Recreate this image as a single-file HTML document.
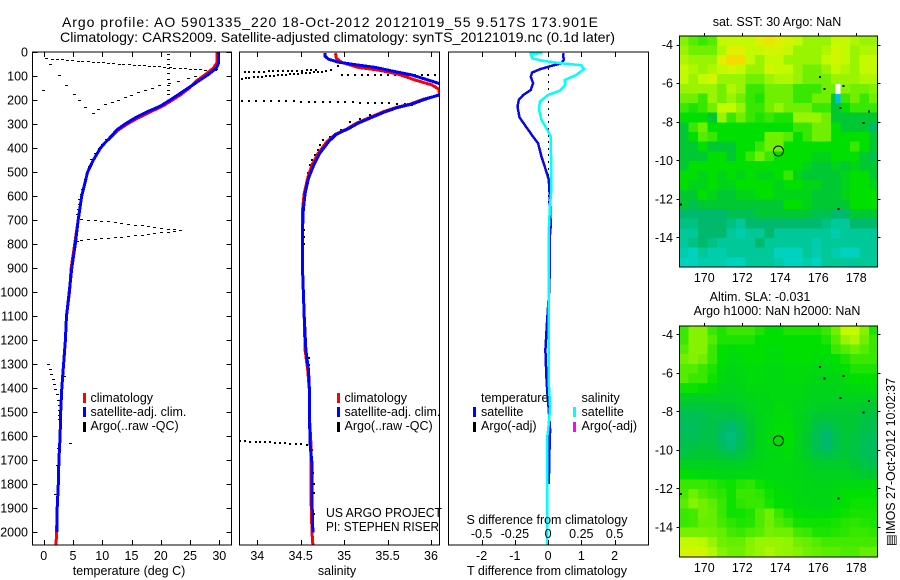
<!DOCTYPE html>
<html>
<head>
<meta charset="utf-8">
<title>Argo profile 5901335_220</title>
<style>
html,body{margin:0;padding:0;background:#fff;}
svg{display:block;}
text{font-family:"Liberation Sans",sans-serif;font-size:12.5px;fill:#000;}
.title{font-size:14px;}
</style>
</head>
<body>
<svg id="chart" xmlns="http://www.w3.org/2000/svg" width="900" height="580" viewBox="0 0 900 580">
<defs>
<clipPath id="clip-temp"><rect x="32.5" y="52" width="199" height="493"/></clipPath>
<clipPath id="clip-sal"><rect x="239.5" y="52" width="200" height="493"/></clipPath>
<clipPath id="clip-diff"><rect x="448.5" y="52" width="200" height="493"/></clipPath>
<clipPath id="clip-map1"><rect x="679.5" y="36" width="198" height="231"/></clipPath>
<clipPath id="clip-map2"><rect x="679.5" y="326" width="198" height="231"/></clipPath>
</defs>
<text class="title" x="62" y="27" textLength="536" lengthAdjust="spacing">Argo profile: AO 5901335_220 18-Oct-2012 20121019_55 9.517S 173.901E</text>
<text class="title" x="60" y="42" textLength="555" lengthAdjust="spacingAndGlyphs">Climatology: CARS2009. Satellite-adjusted climatology: synTS_20121019.nc (0.1d later)</text>

<g id="temp-panel"></g>
<g id="sal-panel"></g>
<g id="diff-panel"></g>
<g id="map1-panel"></g>
<g id="map2-panel"></g>

<text x="129" y="575" text-anchor="middle">temperature (deg C)</text>
<text x="337" y="575" text-anchor="middle">salinity</text>
<text x="547" y="575" text-anchor="middle">T difference from climatology</text>
<text x="547" y="524" text-anchor="middle">S difference from climatology</text>

<text x="90.5" y="402">climatology</text>
<text x="90.5" y="416">satellite-adj. clim.</text>
<text x="90.5" y="430">Argo(..raw -QC)</text>
<rect x="83" y="393" width="3" height="10" fill="#f00"/>
<rect x="83" y="407" width="3" height="10" fill="#00f"/>
<rect x="83" y="422" width="3" height="10" fill="#000"/>

<text x="344.5" y="402">climatology</text>
<text x="344.5" y="416">satellite-adj. clim.</text>
<text x="344.5" y="430">Argo(..raw -QC)</text>
<rect x="337" y="393" width="3" height="10" fill="#f00"/>
<rect x="337" y="407" width="3" height="10" fill="#00f"/>
<rect x="337" y="422" width="3" height="10" fill="#000"/>

<text x="326" y="517" textLength="116" lengthAdjust="spacingAndGlyphs">US ARGO PROJECT</text>
<text x="326" y="531" textLength="113" lengthAdjust="spacingAndGlyphs">PI: STEPHEN RISER</text>

<text x="481" y="402">temperature</text>
<text x="481" y="416">satellite</text>
<text x="481" y="430">Argo(-adj)</text>
<rect x="473" y="407" width="3" height="10" fill="#00f"/>
<rect x="473" y="422" width="3" height="10" fill="#000"/>
<text x="581.5" y="402">salinity</text>
<text x="581.5" y="416">satellite</text>
<text x="581.5" y="430">Argo(-adj)</text>
<rect x="573" y="407" width="3" height="10" fill="#0ff"/>
<rect x="573" y="422" width="3" height="10" fill="#f0f"/>

<text x="777" y="26" text-anchor="middle">sat. SST: 30 Argo: NaN</text>
<text x="760" y="301" text-anchor="middle">Altim. SLA: -0.031</text>
<text x="777" y="315" text-anchor="middle">Argo h1000: NaN h2000: NaN</text>
<text transform="translate(895,546) rotate(-90)" textLength="168" lengthAdjust="spacingAndGlyphs" style="font-family:'Liberation Sans','DejaVu Sans',sans-serif">▤IMOS 27-Oct-2012 10:02:37</text>
</svg>

<script>
/* ---------- temperature profile data ---------- */
const tempClimDepth=[0,45,55,67,94,122,150,178,200,226,250,275,300,324,350,375,400,449,500,550,600,700,800,900,1000,1100,1200,1300,1400,1500,1600,1700,1800,1900,2000,2055];
const tempClimValues=[29.6,29.6,29.3,29.0,27.6,26.0,24.9,23.4,22.0,20.3,18.2,16.1,14.3,12.8,11.7,10.6,9.7,8.5,7.5,7.0,6.5,5.9,5.3,4.7,4.4,3.9,3.7,3.4,3.1,2.9,2.8,2.6,2.5,2.3,2.2,2.1];
const tempSatDepth=[0,45,67,94,122,150,178,200,226,250,275,300,324,350,375,400,449,500,550,600,700,800,900,990,1100,1200,1300,1400,1500,1600,1700,1800,1900,2000];
const tempSatValues=[29.9,29.9,29.5,28.1,26.4,24.7,23.0,21.6,19.9,17.6,15.6,13.9,12.5,11.6,10.6,9.7,8.5,7.5,7.0,6.5,5.9,5.4,4.8,4.4,3.9,3.7,3.4,3.1,2.9,2.8,2.6,2.5,2.3,2.3];
const tempArgoValues=[0.5,1.5,2.4,3.2,4.1,5,5.9,6.7,7.6,8.5,9.3,10.2,11.1,12,12.9,13.7,14.6,15.5,16.3,17.2,18.1,19,19.8,20.7,21.6,22.4,23.3,24.2,25,25.9,26.8,27.6,28.5,29.4,
29.5,28.6,27.5,26,24.8,23,21.5,19.8,18.6,17.4,16.2,15,14,12.8,11.7,10.6,9.4,8.5,7.2,6.2,5.2,3.9,2.7,1.2,0,
21.3,21.3,21.3,21.3,21.3,21.3,21.3,21.3,21.3,19.6,
10.7,10,9.5,8.8,8.2,7.8,7.5,7.2,6.7,6.5,6.2,6.1,5.9,5.8,
6.5,7.6,8.8,9.9,11,12.2,13.3,14.5,15.6,16.8,17.9,19,20.2,21.3,22.4,23.3,
22.4,21.3,20.2,19,17.9,16.8,15.6,14.5,13.3,12.2,11,9.9,8.8,7.6,6.5,5.7,
0.8,1.1,1.4,1.6,1.8,2.1,2.3,2.6,3.5,2.7,2.7,2.7,2.7,2.6,2.3,2.1,4.6];
const tempArgoDepth=[29,31,32,33,35,36,38,39,41,42,44,45,47,49,50,52,53,55,56,58,59,61,62,64,65,67,68,70,71,73,74,76,77,79,
72,85,95,103,112,124,132,140,150,160,170,180,190,200,210,220,240,258,233,203,178,139,96,54,160,
10,32,53,70,90,115,140,160,178,229,
365,386,400,421,449,476,504,532,574,594,615,636,657,678,
699,700,703,706,708,711,715,718,721,724,728,731,735,738,740,743,
749,751,754,757,760,763,765,768,771,772,775,778,781,783,786,790,
1300,1322,1342,1364,1385,1406,1427,1450,1350,1471,1492,1513,1533,1651,1721,1843,1630];
const tempTickLabels=[0,5,10,15,20,25,30];
const depthTickLabels=[0,100,200,300,400,500,600,700,800,900,1000,1100,1200,1300,1400,1500,1600,1700,1800,1900,2000];

/* ---------- salinity profile data ---------- */
const salClimDepth=[5,26,43,64,75,92,117,137,155,179,197,217,231,249,272,297,319,343,374,422,471,526,589,658,742,902,1100,1242,1325,1408,1520,1645,1715,1867,2003,2055];
const salClimValues=[34.90,34.91,34.97,35.16,35.39,35.62,35.82,36.01,36.09,36.10,35.91,35.76,35.60,35.45,35.30,35.14,35.04,34.90,34.80,34.70,34.63,34.58,34.54,34.52,34.52,34.52,34.54,34.55,34.58,34.60,34.60,34.62,34.62,34.62,34.63,34.64];
const salSatDepth=[4,17,30,42,53,64,82,96,117,131,155,179,197,217,231,249,272,297,319,343,374,422,471,526,589,658,742,902,1100,1242,1325,1408,1520,1645,1715,1867,2003];
const salSatValues=[34.78,34.78,34.82,34.93,35.13,35.36,35.59,35.78,35.97,36.09,36.25,36.09,35.93,35.78,35.62,35.47,35.32,35.16,35.05,34.91,34.82,34.72,34.65,34.59,34.55,34.53,34.52,34.52,34.54,34.56,34.59,34.60,34.60,34.61,34.63,34.63,34.64];
const salArgoValues=[33.82,33.87,33.91,33.96,34.01,34.05,34.1,34.15,34.19,34.24,34.28,34.33,34.38,34.42,34.47,34.51,34.56,34.61,34.65,34.7,34.75,34.79,34.85,34.93,
33.86,33.91,33.96,34.02,34.08,34.13,34.18,34.24,34.3,34.35,34.4,34.46,34.52,34.57,34.62,34.68,
34.97,35.05,35.12,35.2,35.28,35.36,35.43,35.51,35.59,35.66,35.74,35.82,35.9,35.97,36.05,
33.82,33.91,33.99,34.08,34.16,34.25,34.33,34.42,34.5,34.59,34.67,34.76,34.84,34.93,35.01,35.1,35.18,35.27,35.35,35.44,35.52,35.61,35.7,
35.78,35.51,35.3,35.18,35.07,34.96,34.89,34.84,34.76,34.72,34.7,34.66,34.63,34.61,34.58,34.54,34.54,34.54,34.6,34.6,34.6,34.63,34.63,34.64,34.65,34.65,34.65,
33.8,33.86,33.92,33.98,34.03,34.09,34.15,34.2,34.26,34.32,34.38,34.44,34.5,34.57];
const salArgoDepth=[111,108,107,106,104,103,101,100,98,97,95,94,92,91,90,88,87,86,85,84,83,81,73,60,
84,83,83,82,82,81,81,80,80,79,79,78,78,77,76,75,
96,96,96,96,96,96,96,97,97,97,97,97,97,97,97,
204,204,205,205,205,206,206,206,207,207,208,208,209,209,210,210,211,212,212,213,214,215,216,
221,242,262,281,290,325,342,353,367,388,408,429,450,471,506,742,770,800,1277,1304,1450,1659,1714,1756,1798,1839,1923,
1621,1622,1623,1624,1625,1626,1627,1629,1630,1631,1632,1634,1635,1637];
const salTickLabels=['34','34.5','35','35.5','36'];
const salTickValues=[34,34.5,35,35.5,36];

/* ---------- difference data ---------- */
const diffTempDepth=[5,33,47,58,72,86,103,130,158,179,200,228,272,304,353,381,436,499,533,603,658,720,770,902,1000,1120,1242,1353,1422,1492,1575,1672,1800];
const diffTempValues=[0.45,0.47,0.4,0.1,-0.25,-0.48,-0.52,-0.45,-0.52,-0.75,-0.88,-0.92,-0.86,-0.7,-0.45,-0.3,-0.2,-0.05,0.02,0.05,0.06,0.08,0.05,0.05,0.03,-0.03,-0.08,-0.05,-0.02,0.02,0.06,0.04,0.02];
const diffSalDepth=[5,8,26,36,47,55,72,96,117,137,161,179,207,242,283,318,353,408,464,575,630,742,902,1242,1380,1478,1550,1600,2055];
const diffSalValues=[-0.043,-0.13,-0.12,-0.05,0.1,0.25,0.27,0.21,0.125,0.13,0.09,0,-0.063,-0.068,-0.05,-0.013,0.02,0.02,0.025,0.025,0.015,0.005,0.005,0.005,0.005,0.015,0.005,-0.005,-0.005];
const diffArgoDepth=[70,97,125,153,181,209,237,264,292,320,348,375,403,431,459,487,514,542,570,598,625];
const diffArgoValues=[0,0,0,0,0,0,0,0,0,0,0,0,0,0,0,0,0,0,0,0,0];
const diffTempTicks=[-2,-1,0,1,2];
const diffSalTicks=[-0.5,-0.25,0,0.25,0.5];
const diffSalTickLabels=['-0.5','-0.25','0','0.25','0.5'];

/* ---------- map data (colour-scale values, 0.5 degree cells, north to south) ---------- */
const mapLonTicks=[170,172,174,176,178];
const mapLatTicks=[-4,-6,-8,-10,-12,-14];
const sstValues=[
[6.5,5.5,5,5.5,8,8,8,8,9,9.5,9,8.5,8,7,7,7,8,8,7.5,7,7],
[7,6,6,6,7.5,9,9,8,8,8.5,8.5,8,7,7,7,7.5,8.5,8,7,7.5,7.5],
[7.5,7,7,7,9,10,10,8,7,8,8,7,7,7,7,8,8.5,8,7,8,8],
[8,7.5,7,7.5,8,8.5,8,7,7,8.5,8,8,7,6,6,7,8,7.5,7,8,8],
[8,7,8,8.5,7,7,7,6,6,7,7.5,7.5,7,6,6,6,7,7,7,7.5,7.5],
[7,7,7,7,6,7.5,7,5,5,6,6,6,5,5,5,6,6,6.5,6,6,6.5],
[6,6,5,7,6,7,6,5,4.5,6,6,6,5,5,6,6,3,5,6,5,6],
[5,4.5,5,6,8,8,7,5,5,6,7,6,6,6,5,5,3,4,5,5,5],
[4,4,4,3,7,5,6,5,4.5,5,4.5,4.5,7,7,7,6,3,3,3,3,3],
[3,5,6,4,4,4,4,4,4,4,4,4,5,5,6,6,4,3,3,3,2],
[3,4,5.5,5,4,4,4,4,4,6,6,5.5,4,5,6,6,4,4,4,4,3],
[3,3,4,3,3,3,4,4,5,6,6,4,4,4,4,4,4,4,5,4,3],
[3,3,3,4,4,3,4,5,6,5,4,4,4,4,3.5,3.5,4,4,4,3,2.5],
[3,4,4,4,4,4,4,4,4,4,4,4,4,3.5,3,3,3.5,3,3.5,3,3],
[4,4,3.5,4,3.5,4,3.5,4,3.5,3.5,4,5,3.5,3,3,3,3,3.5,4,4,3],
[4,3.5,3.5,4,3.5,3.5,4,4,4,4,3.5,4,4,3.5,3.5,3,3,3.5,4,4,3.5],
[3,3,4,3.5,3,3,3.5,3.5,4,4,3.5,3.5,3.5,3.5,3,3,3,3.5,4,4,4],
[3,2.5,3,3,3,3,3,3,3,3,3,4,4,3.5,3,3,3,3,4,4,4],
[2,2,2,2,2,2.5,2.5,2.5,3,3,3,3,3,3,2.5,2.5,2,2,3,3,3],
[1.5,1.5,2,2,2,1.5,1,2,2,2,2,2,2,2,2,1.5,1,1,2,2,2],
[1,1,2,2,2,1,0.5,1,1,2,1,1,1,1,1,1,0.5,1,1,1,1],
[1,1.5,2,1.5,1,1,1,1,2,1,1,1,1,1,0.5,1,1,1,1,1,1],
[0.5,0,1,0.5,0.5,1,1,1,1,1,0,0,0,1,0.5,1,0.5,0,0,1,1],
[0,0,0.5,0.5,0.5,0,0,1,1,1,0.5,0,0,0.5,0,1,1,1,1,1,1]];
const slaValues=[
[5,6.5,6.5,5,4.5,5,5,5,4.5,4,4,4.5,4.5,4.5,4.5,5,6,8,8,6.5,4.5],
[5,6.5,6.5,5.5,4.5,4.5,4.5,4.5,4,4,4,4,4,4,4,4.5,5.5,7,7.5,6,5],
[5.5,6.5,6.5,5,4,3.8,4,4,4,3.8,3.8,4,4,4,4,4,5,5.5,6,5.5,5],
[6,6.5,6,5,4,3.7,3.8,4,4,3.8,3.8,4,4,4,3.8,3.8,4,4.5,5,5,5],
[5.5,5.5,5,4.5,3.8,3.6,3.7,3.8,3.8,3.7,3.7,3.8,3.8,3.8,3.7,3.7,3.8,4,4.5,4.5,4.5],
[5.5,5,5,4.2,3.7,3.5,3.6,3.8,3.8,3.7,3.7,3.8,3.8,3.7,3.6,3.6,3.6,3.8,4,4,4],
[4.2,4.2,4,3.8,3.5,3.4,3.5,3.7,3.7,3.7,3.7,3.7,3.7,3.6,3.5,3.5,3.5,3.6,3.7,3.7,3.8],
[3.3,3.3,3.3,3.3,3.3,3.3,3.4,3.5,3.6,3.6,3.7,3.7,3.6,3.5,3.4,3.4,3.4,3.4,3.4,3.4,3.4],
[2.8,2.8,2.8,2.9,3,3,3.2,3.4,3.6,3.6,3.8,3.7,3.6,3.4,3.3,3.2,3.2,3.2,3.2,3,3],
[2.4,2.4,2.5,2.7,2.7,2.6,2.8,3.2,3.5,3.7,3.8,3.8,3.5,3.3,3,2.9,3,3,3,2.8,2.6],
[2.3,2.3,2.5,2.6,2.2,2,2.4,3,3.5,3.7,3.9,3.9,3.5,3.2,2.6,2.4,2.7,3,2.9,2.6,2.4],
[2.4,2.4,2.6,2.6,2,1.7,2.2,3,3.5,3.7,3.9,4,3.5,3.1,2.4,2,2.5,2.9,2.8,2.5,2.3],
[2.6,2.6,2.8,2.8,2.3,1.8,2.4,3,3.5,3.7,3.8,3.9,3.5,3.1,2.4,2,2.5,2.9,2.7,2.4,2.2],
[2.8,3,3,3,2.8,2.6,2.8,3.2,3.5,3.6,3.7,3.8,3.5,3.2,2.8,2.6,2.8,3,2.7,2.4,2.2],
[3.4,3.4,3.4,3.4,3.3,3.3,3.3,3.5,3.6,3.7,3.7,3.7,3.6,3.4,3.2,3.2,3.2,3.2,3,2.7,2.5],
[4,3.8,3.7,3.7,3.6,3.6,3.7,3.7,3.7,3.7,3.7,3.7,3.6,3.5,3.4,3.4,3.4,3.4,3.3,3.1,3],
[5,5,5,4.8,4.4,4.2,4.6,4.8,4.2,3.9,3.8,3.7,3.7,3.6,3.5,3.5,3.6,3.7,3.7,3.7,3.7],
[5.2,6,5.4,5,4.8,4.2,5,5,4.8,4.2,3.9,3.8,3.7,3.6,3.6,3.6,3.7,3.9,4,4,4],
[5.6,6.5,6,5.6,5,4.2,4.8,5,5,4.4,4,3.9,3.7,3.7,3.6,3.6,3.8,4,4.2,4.2,4.2],
[5,5.2,6,5.8,5,4.2,4.2,4.5,5.4,6,5,4.3,4,3.8,3.8,3.8,4,4.2,4.4,4.4,4.4],
[5,5.2,5.8,5.8,5.2,4.8,4.5,4.6,5.4,6,5.4,5,4.3,4.2,4.2,4.2,4.4,4.6,4.8,4.6,4.5],
[6.2,6.2,6.2,6,5.8,5.2,5,5.4,5.6,6.2,6,6,5.2,5,4.5,4.5,4.6,4.8,5,5,4.8],
[8,8,7.8,7,6,5.8,5.8,6.5,7,7,7,6.8,6,5.8,5.5,5.2,5.2,5.2,5.2,5.2,5.2],
[8.5,8.6,8.4,7.6,6.5,6,6,6.6,7,7.4,7,6.8,6.5,6,5.8,5.6,5.6,5.4,5.4,5.8,5.8]];
const islandLons=[176.09,176.32,177.32,177.16,178.68,178.37,177.05,168.77];
const islandLats=[-5.66,-6.26,-6.13,-7.27,-7.44,-8.03,-12.49,-12.27];
const floatLon=[173.901];
const floatLat=[-9.517];
const sstNanLon=[176.9];
const sstNanLat=[-6.05];
const sstColdLon=[176.9];
const sstColdLat=[-6.55];

/* ---------- drawing ---------- */
const NS='http://www.w3.org/2000/svg';
function node(tag,parent,attrs){
  const e=document.createElementNS(NS,tag);
  for(const k in attrs){e.setAttribute(k,attrs[k]);}
  parent.appendChild(e);
  return e;
}
function linear(d0,p0,d1,p1){return v=>p0+(v-d0)*(p1-p0)/(d1-d0);}
const depthY=linear(0,52,2000,532);
const tempX=linear(0,43.7,30,219.3);
const salX=linear(34,257.3,36,431);
const diffTX=linear(-2,481.6,2,614.6);
const diffSX=linear(-0.5,481.6,0.5,614.6);
const lonX=linear(170,704.3,178,856.3);
const map1Y=linear(-4,44.7,-14,237.4);
const map2Y=linear(-4,334.4,-14,527);

function frame(parent,x,y,w,h,name){
  const r=node('rect',parent,{x:x,y:y,width:w,height:h,fill:'none',stroke:'#000','stroke-width':1,'shape-rendering':'crispEdges'});
  
  
}
function tick(parent,x1,y1,x2,y2,name){
  const l=node('line',parent,{x1:x1,y1:y1,x2:x2,y2:y2,stroke:'#000','stroke-width':1,'shape-rendering':'crispEdges'});
  
  
}
function label(parent,x,y,str,anchor,name){
  const t=node('text',parent,{x:x,y:y,'text-anchor':anchor});
  t.textContent=str;
  
  
}
function curve(parent,xs,ys,xf,color,clip,name,width){
  const pts=xs.map((v,i)=>xf(v).toFixed(1)+','+depthY(ys[i]).toFixed(1)).join(' ');
  const p=node('polyline',parent,{points:pts,fill:'none',stroke:color,'stroke-width':width,'clip-path':'url(#'+clip+')','shape-rendering':'crispEdges'});
  
  
}
function dots(parent,xs,ys,xf,clip,name,w,h){
  const g=node('g',parent,{'clip-path':'url(#'+clip+')'});
  
  
  xs.forEach((v,i)=>{
    const d=node('rect',g,{x:Math.round(xf(v)-w/2),y:Math.round(depthY(ys[i])-h/2),width:w,height:h,fill:'#000','shape-rendering':'crispEdges'});
    
    
  });
}

/* temperature panel */
const tp=document.getElementById('temp-panel');
dots(tp,tempArgoValues,tempArgoDepth,tempX,'clip-temp','temperature-argo-dots',3,1);
curve(tp,tempClimValues,tempClimDepth,tempX,'#ff0000','clip-temp','temperature-climatology-line',3);
curve(tp,tempSatValues,tempSatDepth,tempX,'#0000ff','clip-temp','temperature-satellite-line',3);
frame(tp,32.5,52,199,493,'temperature-axes-frame');
tempTickLabels.forEach(v=>{
  const x=Math.round(tempX(v))+0.5;
  tick(tp,x,52,x,57,'temperature-top-tick');
  tick(tp,x,545,x,540,'temperature-bottom-tick');
  label(tp,tempX(v),560,String(v),'middle','temperature-tick-label');
});
depthTickLabels.forEach(v=>{
  const y=Math.round(depthY(v))+0.5;
  tick(tp,32.5,y,37.5,y,'depth-left-tick');
  tick(tp,231.5,y,226.5,y,'depth-right-tick');
  label(tp,28,depthY(v)+4.5,String(v),'end','depth-tick-label');
});

/* salinity panel */
const sp=document.getElementById('sal-panel');
dots(sp,salArgoValues,salArgoDepth,salX,'clip-sal','salinity-argo-dots',2,2);
curve(sp,salClimValues,salClimDepth,salX,'#ff0000','clip-sal','salinity-climatology-line',3);
curve(sp,salSatValues,salSatDepth,salX,'#0000ff','clip-sal','salinity-satellite-line',3);
frame(sp,239.5,52,200,493,'salinity-axes-frame');
salTickValues.forEach((v,i)=>{
  const x=Math.round(salX(v))+0.5;
  tick(sp,x,52,x,57,'salinity-top-tick');
  tick(sp,x,545,x,540,'salinity-bottom-tick');
  label(sp,salX(v),560,salTickLabels[i],'middle','salinity-tick-label');
});

/* difference panel */
const dp=document.getElementById('diff-panel');
dots(dp,diffArgoValues,diffArgoDepth,diffTX,'clip-diff','difference-argo-dots',1,2);
curve(dp,diffTempValues,diffTempDepth,diffTX,'#0808e8','clip-diff','temperature-difference-line',2.5);
curve(dp,diffSalValues,diffSalDepth,diffSX,'#00ffff','clip-diff','salinity-difference-line',2.5);
frame(dp,448.5,52,200,493,'difference-axes-frame');
diffTempTicks.forEach(v=>{
  const x=Math.round(diffTX(v))+0.5;
  tick(dp,x,52,x,57,'difference-top-tick');
  tick(dp,x,545,x,540,'difference-bottom-tick');
  label(dp,diffTX(v),560,String(v),'middle','t-difference-tick-label');
});
diffSalTicks.forEach((v,i)=>{
  label(dp,diffSX(v),538,diffSalTickLabels[i],'middle','s-difference-tick-label');
});

/* maps */
const palette=[[0,210,192],[0,200,152],[0,185,108],[0,200,50],[0,224,0],[56,232,0],[112,240,0],[152,244,0],[196,250,0],[224,240,0],[244,220,0]];
function levelColor(v){
  const i=Math.min(Math.floor(v),palette.length-2), f=v-i;
  const c=palette[i].map((p,k)=>Math.round(p+(palette[i+1][k]-p)*f));
  return 'rgb('+c.join(',')+')';
}
function drawMap(pid,values,yf,clip,prefix){
  const root=document.getElementById(pid);
  const grid=node('g',root,{'clip-path':'url(#'+clip+')','shape-rendering':'crispEdges'});
  
  
  const lon0=168.68, lat0=-3.53;
  values.forEach((row,r)=>{
    row.forEach((v,c)=>{
      const x0=lonX(lon0+c*0.5),x1=lonX(lon0+(c+1)*0.5);
      const y0=yf(lat0-r*0.5),y1=yf(lat0-(r+1)*0.5);
      const cell=node('rect',grid,{x:x0.toFixed(2),y:y0.toFixed(2),width:(x1-x0+0.6).toFixed(2),height:(y1-y0+0.6).toFixed(2),fill:levelColor(v)});
      
      
    });
  });
  return {root,grid};
}
function finishMap(m,yf,top,prefix){
  const root=m.root;
  const marks=node('g',root,{});
  
  
  islandLons.forEach((lon,i)=>{
    const d=node('rect',marks,{x:(lonX(lon)-1).toFixed(1),y:(yf(islandLats[i])-0.5).toFixed(1),width:2,height:2,fill:'#000','shape-rendering':'crispEdges'});
    
    
  });
  const circ=node('circle',root,{cx:lonX(floatLon[0]).toFixed(1),cy:yf(floatLat[0]).toFixed(1),r:5,fill:'none',stroke:'#000','stroke-width':1});
  
  
  frame(root,679.5,top,198,231,prefix+'-axes-frame');
  mapLonTicks.forEach(v=>{
    const x=Math.round(lonX(v))+0.5;
    tick(root,x,top,x,top-3,prefix+'-top-tick');
    label(root,lonX(v),top+246,String(v),'middle',prefix+'-lon-label');
  });
  mapLatTicks.forEach(v=>{
    const y=Math.round(yf(v))+0.5;
    tick(root,679.5,y,676.5,y,prefix+'-left-tick');
    tick(root,877.5,y,880.5,y,prefix+'-right-tick');
    label(root,673,yf(v)+4.5,String(v),'end',prefix+'-lat-label');
  });
}
const m1=drawMap('map1-panel',sstValues,map1Y,'clip-map1','sst');
const nanCell=node('rect',m1.grid,{x:lonX(sstNanLon[0]).toFixed(1),y:map1Y(sstNanLat[0]).toFixed(1),width:5,height:10,fill:'#ffffff'});


const coldCell=node('rect',m1.grid,{x:lonX(sstColdLon[0]).toFixed(1),y:map1Y(sstColdLat[0]).toFixed(1),width:5,height:9,fill:'#00c0e8'});


finishMap(m1,map1Y,36,'sst');
const m2=drawMap('map2-panel',slaValues,map2Y,'clip-map2','sla');
finishMap(m2,map2Y,326,'sla');
</script>
</body>
</html>
